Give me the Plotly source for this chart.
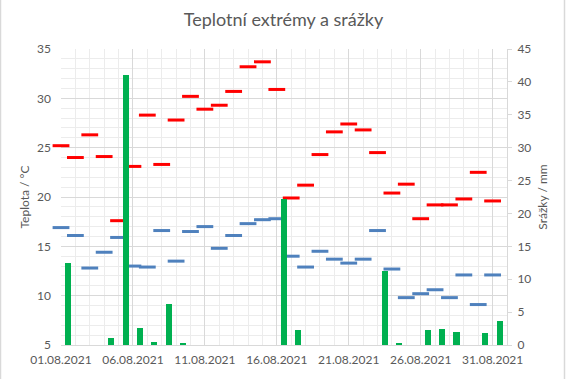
import pandas as pd
import plotly.graph_objects as go

# ---- data ----
dates = pd.date_range("2021-08-01", periods=31, freq="D")
tmax = [25.2, 24.0, 26.3, 24.1, 17.6, 23.1, 28.3, 23.3, 27.8, 30.2, 28.9, 29.3, 30.7, 33.2, 33.7, 30.9,
        19.9, 21.2, 24.3, 26.6, 27.4, 26.8, 24.5, 20.4, 21.3, 17.8, 19.2, 19.2, 19.8, 22.5, 19.6]
tmin = [16.9, 16.1, 12.8, 14.4, 15.9, 13.0, 12.9, 16.6, 13.5, 16.5, 17.0, 14.8, 16.1, 17.3, 17.7, 17.8,
        14.0, 12.9, 14.5, 13.7, 13.3, 13.7, 16.6, 12.7, 9.8, 10.2, 10.6, 9.8, 12.1, 9.1, 12.1]
precip = [12.5, 0, 0, 1.0, 41.1, 2.6, 0.5, 6.3, 0.2, 0, 0, 0, 0, 0, 0, 22.2,
          2.3, 0, 0, 0, 0, 0, 11.3, 0.2, 0, 2.3, 2.4, 2.0, 0, 1.8, 3.6]

title_text = "Teplotní extrémy a srážky"
y1_title = "Teplota / °C"
y2_title = "Srážky / mm"

DAY = 86400000
FONT = "Lato"
TXT = "#595959"
GRID = "#d9d9d9"
MINOR = "#ececec"

fig = go.Figure()
fig.add_trace(go.Bar(x=dates, y=precip, yaxis="y2", marker_color="#00B050",
                     width=0.42 * DAY, offset=0.28 * DAY, marker_line_width=0,
                     name="Srážky"))
fig.add_trace(go.Scatter(x=dates, y=tmax, mode="markers", name="Tmax", cliponaxis=False,
                         marker=dict(symbol="line-ew", size=12, line=dict(width=3, color="#FF0000"))))
fig.add_trace(go.Scatter(x=dates, y=tmin, mode="markers", name="Tmin", cliponaxis=False,
                         marker=dict(symbol="line-ew", size=12, line=dict(width=3, color="#4F81BD"))))

W, H = 567, 379
L, R, T, B = 61, 60, 49, 32
pw, ph = W - L - R, H - T - B

fig.update_layout(
    width=W, height=H, margin=dict(l=L, r=R, t=T, b=B),
    paper_bgcolor="white", plot_bgcolor="white", showlegend=False,
    font=dict(family=FONT, size=12, color=TXT),
    title=dict(text=title_text, x=0.5, xanchor="center", y=1 - 20 / H, yanchor="middle",
               font=dict(family=FONT, size=18, color=TXT)),
    bargap=0,
    xaxis=dict(type="date", range=["2021-08-01", "2021-09-01"], tick0="2021-08-01", dtick=5 * DAY,
               tickformat="%d.%m.%Y", showgrid=True, gridcolor=GRID, gridwidth=1,
               minor=dict(dtick=DAY, tick0="2021-08-01", showgrid=True, gridcolor=MINOR),
               showline=True, linecolor=GRID, ticks="", zeroline=False, ticklabelstandoff=4,
               tickfont=dict(size=12, color=TXT)),
    yaxis=dict(range=[5, 35], dtick=5, showgrid=True, gridcolor=GRID,
               minor=dict(dtick=1, showgrid=True, gridcolor=MINOR),
               showline=False, ticks="", zeroline=False, ticklabelstandoff=9,
               title=dict(text=y1_title, standoff=4, font=dict(size=12, color=TXT)),
               tickfont=dict(size=12, color=TXT)),
    yaxis2=dict(range=[0, 45], dtick=5, overlaying="y", side="right", showgrid=False,
                showline=True, linecolor=GRID, ticks="outside", ticklen=4, tickcolor=GRID,
                zeroline=False, ticklabelstandoff=3,
                title=dict(text=y2_title, standoff=8, font=dict(size=12, color=TXT)),
                tickfont=dict(size=12, color=TXT)),
    shapes=[dict(type="rect", xref="paper", yref="paper",
                 x0=(0.5 - L) / pw, x1=(564.5 - L) / pw,
                 y0=(B - 377.5) / ph, y1=(B + ph - 0.5 + T) / ph,
                 line=dict(color=GRID, width=1.5), fillcolor="rgba(0,0,0,0)", layer="below")],
)

fig.write_html("out.html", config={"displayModeBar": False},
               post_script="document.body.style.margin='0';")
